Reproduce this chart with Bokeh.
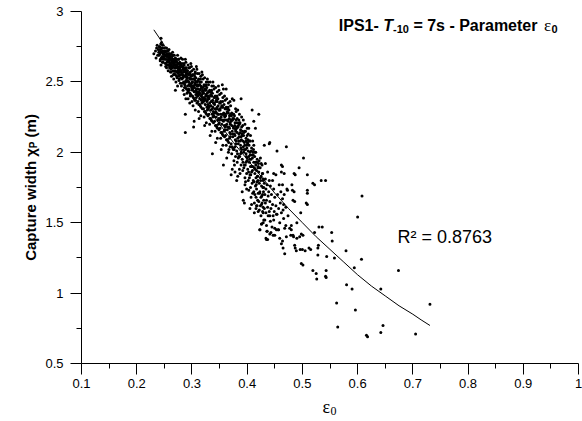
import math
from bokeh.plotting import figure
from bokeh.models import Label, Range1d, FixedTicker, CustomJSTickFormatter
from bokeh.embed import file_html
from bokeh.resources import INLINE

# ---------------- data ----------------
x_ticks = [0.1, 0.2, 0.3, 0.4, 0.5, 0.6, 0.7, 0.8, 0.9, 1.0]
x_minor = [0.15, 0.25, 0.35, 0.45, 0.55, 0.65, 0.75, 0.85, 0.95]
y_ticks = [0.5, 1.0, 1.5, 2.0, 2.5, 3.0]
y_minor = [0.75, 1.25, 1.75, 2.25, 2.75]

fit_eps = [0.231, 0.25, 0.275, 0.30, 0.325, 0.35, 0.375, 0.40, 0.425, 0.45, 0.475,
           0.50, 0.525, 0.55, 0.575, 0.60, 0.625, 0.65, 0.675, 0.70, 0.715, 0.731]
fit_cw = [2.87, 2.76, 2.61, 2.46, 2.33, 2.20, 2.07, 1.95, 1.83, 1.71, 1.60,
          1.50, 1.40, 1.31, 1.22, 1.13, 1.05, 0.98, 0.91, 0.85, 0.81, 0.77]

cloud_upper = [
    (0.231,2.70),(0.234,2.72),(0.236,2.74),(0.238,2.69),(0.239,2.73),(0.237,2.76),(0.240,2.71),(0.235,2.67),
    (0.241,2.75),(0.242,2.70),(0.243,2.66),(0.244,2.73),(0.245,2.78),(0.246,2.68),(0.247,2.72),(0.248,2.64),
    (0.249,2.70),(0.250,2.74),(0.244,2.62),(0.247,2.76),(0.249,2.67),(0.242,2.73),(0.246,2.71),
    (0.251,2.69),(0.252,2.63),(0.252,2.72),(0.253,2.66),(0.254,2.74),(0.254,2.60),(0.255,2.70),(0.256,2.65),
    (0.256,2.68),(0.257,2.58),(0.257,2.72),(0.258,2.62),(0.258,2.67),(0.259,2.70),(0.259,2.64),(0.260,2.61),
    (0.260,2.68),(0.253,2.69),(0.255,2.62),(0.257,2.66),
    (0.261,2.66),(0.261,2.57),(0.262,2.70),(0.262,2.62),(0.263,2.65),(0.263,2.54),(0.264,2.68),(0.264,2.60),
    (0.265,2.63),(0.265,2.71),(0.266,2.58),(0.266,2.66),(0.267,2.52),(0.267,2.62),(0.268,2.69),(0.268,2.56),
    (0.269,2.64),(0.269,2.60),(0.270,2.67),(0.270,2.55),(0.262,2.59),(0.264,2.64),(0.266,2.61),(0.268,2.63),
    (0.270,2.44),
    (0.271,2.62),(0.271,2.50),(0.272,2.66),(0.272,2.57),(0.273,2.60),(0.273,2.53),(0.274,2.69),(0.274,2.47),
    (0.275,2.63),(0.275,2.56),(0.276,2.59),(0.276,2.66),(0.277,2.52),(0.277,2.61),(0.278,2.55),(0.278,2.64),
    (0.279,2.49),(0.279,2.58),(0.280,2.62),(0.280,2.53),(0.272,2.61),(0.274,2.58),(0.276,2.54),(0.278,2.60),
    (0.280,2.67),(0.273,2.64),(0.277,2.57),
    (0.281,2.58),(0.281,2.47),(0.282,2.63),(0.282,2.52),(0.283,2.55),(0.283,2.66),(0.284,2.44),(0.284,2.60),
    (0.285,2.50),(0.285,2.57),(0.286,2.62),(0.286,2.41),(0.287,2.54),(0.287,2.48),(0.288,2.59),(0.288,2.27),
    (0.288,2.14),(0.289,2.51),(0.289,2.64),(0.290,2.45),(0.290,2.56),(0.282,2.56),(0.284,2.53),(0.286,2.49),
    (0.288,2.46),(0.290,2.60),(0.283,2.61),(0.287,2.58),(0.289,2.38),
    (0.291,2.53),(0.291,2.42),(0.292,2.58),(0.292,2.47),(0.293,2.62),(0.293,2.38),(0.294,2.50),(0.294,2.55),
    (0.295,2.44),(0.295,2.60),(0.296,2.35),(0.296,2.52),(0.297,2.47),(0.297,2.57),(0.298,2.41),(0.298,2.63),
    (0.299,2.49),(0.299,2.54),(0.300,2.36),(0.300,2.45),(0.292,2.51),(0.294,2.45),(0.296,2.56),(0.298,2.52),
    (0.300,2.58),(0.293,2.43),(0.297,2.40),(0.299,2.61),(0.295,2.48),(0.291,2.56),
]

cloud_middle = [
    (0.301,2.50),(0.301,2.40),(0.302,2.55),(0.302,2.33),(0.303,2.46),(0.303,2.59),(0.304,2.43),(0.304,2.52),
    (0.305,2.37),(0.305,2.48),(0.306,2.57),(0.306,2.30),(0.307,2.44),(0.307,2.53),(0.308,2.39),(0.308,2.61),
    (0.309,2.47),(0.309,2.35),(0.310,2.50),(0.310,2.42),(0.302,2.47),(0.304,2.38),(0.306,2.51),(0.308,2.45),
    (0.310,2.56),(0.303,2.18),(0.305,2.54),(0.307,2.41),(0.309,2.59),(0.301,2.44),(0.304,2.22),
    (0.311,2.45),(0.311,2.36),(0.312,2.52),(0.312,2.29),(0.313,2.41),(0.313,2.56),(0.314,2.38),(0.314,2.48),
    (0.315,2.33),(0.315,2.44),(0.316,2.54),(0.316,2.26),(0.317,2.40),(0.317,2.50),(0.318,2.35),(0.318,2.57),
    (0.319,2.43),(0.319,2.31),(0.320,2.46),(0.320,2.38),(0.312,2.43),(0.314,2.34),(0.316,2.47),(0.318,2.41),
    (0.320,2.52),(0.313,2.24),(0.315,2.50),(0.317,2.37),(0.319,2.55),(0.311,2.40),
    (0.321,2.42),(0.321,2.31),(0.322,2.48),(0.322,2.25),(0.323,2.37),(0.323,2.53),(0.324,2.34),(0.324,2.45),
    (0.325,2.28),(0.325,2.40),(0.326,2.50),(0.326,2.21),(0.327,2.36),(0.327,2.46),(0.328,2.30),(0.328,2.52),
    (0.329,2.39),(0.329,2.26),(0.330,2.43),(0.330,2.33),(0.322,2.39),(0.324,2.29),(0.326,2.44),(0.328,2.37),
    (0.330,2.48),(0.323,2.19),(0.325,2.47),(0.327,2.32),(0.329,2.50),(0.321,2.36),
    (0.331,2.38),(0.331,2.27),(0.332,2.44),(0.332,2.20),(0.333,2.33),(0.333,2.50),(0.334,2.30),(0.334,2.41),
    (0.335,2.23),(0.335,2.36),(0.336,2.47),(0.336,2.15),(0.337,2.31),(0.337,2.42),(0.338,2.25),(0.338,2.50),
    (0.339,2.35),(0.339,2.21),(0.340,2.39),(0.340,2.28),(0.332,2.35),(0.334,2.24),(0.336,2.40),(0.338,2.32),
    (0.340,2.45),(0.333,2.12),(0.335,2.43),(0.337,2.27),(0.339,2.47),(0.331,2.32),(0.337,1.99),
    (0.341,2.34),(0.341,2.22),(0.342,2.40),(0.342,2.15),(0.343,2.29),(0.343,2.46),(0.344,2.25),(0.344,2.37),
    (0.345,2.18),(0.345,2.31),(0.346,2.43),(0.346,2.10),(0.347,2.27),(0.347,2.38),(0.348,2.20),(0.348,2.47),
    (0.349,2.30),(0.349,2.16),(0.350,2.35),(0.350,2.23),(0.342,2.31),(0.344,2.19),(0.346,2.36),(0.348,2.27),
    (0.350,2.41),(0.343,2.07),(0.345,2.39),(0.347,2.23),(0.349,2.44),(0.341,2.28),
    (0.351,2.30),(0.351,2.17),(0.352,2.36),(0.352,2.10),(0.353,2.25),(0.353,2.42),(0.354,2.20),(0.354,2.33),
    (0.355,2.13),(0.355,2.27),(0.356,2.39),(0.356,2.05),(0.357,2.22),(0.357,2.45),(0.358,2.15),(0.358,2.34),
    (0.359,2.26),(0.359,2.11),(0.360,2.31),(0.360,2.18),(0.352,2.27),(0.354,2.14),(0.356,2.32),(0.358,2.23),
    (0.360,2.37),(0.353,2.02),(0.355,2.48),(0.357,1.91),(0.359,2.40),(0.351,2.24),(0.362,2.45),
    (0.361,2.26),(0.361,2.12),(0.362,2.32),(0.362,2.05),(0.363,2.20),(0.363,2.38),(0.364,2.16),(0.364,2.29),
    (0.365,2.08),(0.365,2.23),(0.366,2.35),(0.366,2.00),(0.367,2.18),(0.367,2.30),(0.368,2.10),(0.368,2.26),
    (0.369,2.21),(0.369,2.04),(0.370,2.27),(0.370,2.13),(0.362,2.23),(0.364,2.09),(0.366,2.28),(0.368,2.17),
    (0.370,2.33),(0.363,1.96),(0.365,2.31),(0.367,2.02),(0.369,2.36),(0.361,2.19),
]

cloud_lower = [
    (0.371,2.22),(0.371,2.06),(0.372,2.28),(0.372,1.99),(0.373,2.15),(0.373,2.38),(0.374,2.11),(0.374,2.24),
    (0.375,2.02),(0.375,2.18),(0.376,2.37),(0.376,1.94),(0.377,2.13),(0.377,2.26),(0.378,2.04),(0.378,2.21),
    (0.379,2.16),(0.379,1.97),(0.380,2.23),(0.380,2.08),(0.372,2.19),(0.374,2.03),(0.376,2.24),(0.378,2.12),
    (0.380,2.29),(0.373,1.88),(0.375,2.27),(0.377,1.91),(0.379,2.31),(0.371,1.84),(0.378,1.86),
    (0.381,2.17),(0.381,2.01),(0.382,2.24),(0.382,1.93),(0.383,2.10),(0.383,2.30),(0.384,2.06),(0.384,2.19),
    (0.385,1.97),(0.385,2.13),(0.386,2.27),(0.386,1.88),(0.387,2.08),(0.387,2.21),(0.388,1.99),(0.388,2.16),
    (0.389,2.11),(0.389,1.91),(0.390,2.18),(0.390,2.02),(0.382,2.14),(0.384,1.96),(0.386,2.20),(0.388,2.05),
    (0.390,2.25),(0.383,1.83),(0.385,2.23),(0.387,1.85),(0.389,2.38),(0.381,1.80),
    (0.391,2.12),(0.391,1.95),(0.392,2.19),(0.392,1.87),(0.393,2.04),(0.393,2.23),(0.394,2.00),(0.394,2.14),
    (0.395,1.91),(0.395,2.07),(0.396,2.20),(0.396,1.82),(0.397,2.02),(0.397,2.15),(0.398,1.93),(0.398,2.10),
    (0.399,2.05),(0.399,1.85),(0.400,2.12),(0.400,1.96),(0.392,2.08),(0.394,1.89),(0.396,1.77),(0.398,1.99),
    (0.400,2.17),(0.393,1.66),(0.395,1.64),(0.397,1.79),(0.399,1.74),(0.391,1.72),
    (0.401,2.06),(0.401,1.88),(0.402,2.13),(0.402,1.80),(0.403,1.97),(0.403,2.17),(0.404,1.93),(0.404,2.08),
    (0.405,1.84),(0.405,2.00),(0.406,2.12),(0.406,1.75),(0.407,1.95),(0.407,1.68),(0.408,1.86),(0.408,2.03),
    (0.409,1.98),(0.409,1.78),(0.410,1.90),(0.410,1.71),(0.402,2.01),(0.404,1.82),(0.406,1.90),(0.408,1.63),
    (0.410,2.08),(0.403,1.73),(0.405,1.60),(0.409,2.30),(0.412,2.22),(0.415,2.17),
    (0.411,1.98),(0.411,1.80),(0.412,2.05),(0.412,1.72),(0.413,1.89),(0.413,1.64),(0.414,1.85),(0.414,2.00),
    (0.415,1.76),(0.415,1.93),(0.416,1.68),(0.416,1.60),(0.417,1.87),(0.417,1.74),(0.418,1.79),(0.418,1.95),
    (0.419,1.66),(0.419,1.83),(0.420,1.71),(0.420,1.58),(0.412,1.93),(0.414,1.70),(0.416,1.82),(0.418,1.62),
    (0.420,1.90),(0.413,1.57),(0.417,1.62),
    (0.421,1.86),(0.421,1.65),(0.422,1.78),(0.422,1.59),(0.423,1.72),(0.423,1.45),(0.424,1.82),(0.424,1.62),
    (0.425,1.68),(0.425,1.55),(0.426,1.76),(0.426,1.49),(0.427,1.64),(0.427,1.91),(0.428,1.58),(0.428,1.70),
    (0.429,1.61),(0.429,1.80),(0.430,1.66),(0.430,1.52),(0.421,2.27),(0.424,1.96),(0.426,1.63),(0.428,1.85),
    (0.430,1.75),
    (0.431,1.78),(0.431,1.60),(0.432,1.70),(0.432,1.52),(0.433,1.64),(0.433,1.81),(0.434,1.57),(0.434,1.74),
    (0.435,1.48),(0.435,1.66),(0.436,1.44),(0.436,1.77),(0.437,1.61),(0.437,1.38),(0.438,1.69),(0.438,1.55),
    (0.439,1.72),(0.440,1.58),(0.440,1.80),(0.433,1.92),(0.437,1.86),
    (0.441,1.65),(0.442,1.51),(0.442,1.76),(0.443,1.60),(0.444,1.70),(0.445,1.47),(0.446,1.63),(0.447,1.55),
    (0.448,1.74),(0.449,1.58),(0.450,1.68),(0.446,1.80),(0.443,1.43),(0.448,1.52),
    (0.452,1.62),(0.454,1.56),(0.455,1.70),(0.457,1.60),(0.459,1.50),(0.460,1.64),(0.462,1.57),(0.464,1.67),
    (0.466,1.53),(0.468,1.46),(0.470,1.61),(0.456,1.45),(0.461,1.72),(0.458,1.77),
]

cloud_core = [
    (0.2405,2.69),(0.2415,2.75),(0.2425,2.65),(0.2435,2.71),(0.2445,2.67),(0.2455,2.74),(0.2465,2.64),(0.2475,2.70),
    (0.2485,2.68),(0.2495,2.72),(0.2435,2.77),(0.2475,2.66),
    (0.2505,2.66),(0.2515,2.71),(0.2525,2.61),(0.2535,2.68),(0.2545,2.64),(0.2555,2.72),(0.2565,2.62),(0.2575,2.69),
    (0.2585,2.65),(0.2595,2.60),(0.2545,2.70),(0.2585,2.73),
    (0.2605,2.63),(0.2615,2.68),(0.2625,2.57),(0.2635,2.66),(0.2645,2.61),(0.2655,2.69),(0.2665,2.55),(0.2675,2.65),
    (0.2685,2.60),(0.2695,2.58),(0.2655,2.64),(0.2695,2.66),
    (0.2705,2.60),(0.2715,2.65),(0.2725,2.54),(0.2735,2.62),(0.2745,2.57),(0.2755,2.66),(0.2765,2.51),(0.2775,2.63),
    (0.2785,2.58),(0.2795,2.55),(0.2755,2.60),(0.2795,2.62),
    (0.2805,2.57),(0.2815,2.61),(0.2825,2.49),(0.2835,2.59),(0.2845,2.54),(0.2855,2.63),(0.2865,2.46),(0.2875,2.60),
    (0.2885,2.55),(0.2895,2.50),(0.2855,2.58),(0.2895,2.57),
    (0.2905,2.54),(0.2915,2.58),(0.2925,2.44),(0.2935,2.56),(0.2945,2.50),(0.2955,2.60),(0.2965,2.42),(0.2975,2.55),
    (0.2985,2.48),(0.2995,2.46),(0.2955,2.53),(0.2995,2.52),
    (0.3005,2.50),(0.3015,2.55),(0.3025,2.39),(0.3035,2.52),(0.3045,2.46),(0.3055,2.56),(0.3065,2.37),(0.3075,2.50),
    (0.3085,2.43),(0.3095,2.41),(0.3055,2.49),(0.3095,2.48),
    (0.3105,2.47),(0.3115,2.51),(0.3125,2.34),(0.3135,2.48),(0.3145,2.42),(0.3155,2.52),(0.3165,2.32),(0.3175,2.46),
    (0.3185,2.39),(0.3195,2.36),(0.3155,2.45),(0.3195,2.44),
    (0.3205,2.43),(0.3215,2.47),(0.3225,2.29),(0.3235,2.44),(0.3245,2.38),(0.3255,2.48),(0.3265,2.27),(0.3275,2.42),
    (0.3285,2.34),(0.3295,2.31),(0.3255,2.41),(0.3295,2.40),
    (0.3305,2.39),(0.3315,2.43),(0.3325,2.24),(0.3335,2.40),(0.3345,2.33),(0.3355,2.44),(0.3365,2.22),(0.3375,2.37),
    (0.3385,2.29),(0.3395,2.26),(0.3355,2.36),(0.3395,2.35),
    (0.3405,2.35),(0.3415,2.39),(0.3425,2.19),(0.3435,2.36),(0.3445,2.28),(0.3455,2.40),(0.3465,2.17),(0.3475,2.33),
    (0.3485,2.24),(0.3495,2.21),(0.3455,2.32),(0.3495,2.30),
    (0.3505,2.31),(0.3515,2.35),(0.3525,2.14),(0.3535,2.32),(0.3545,2.23),(0.3555,2.36),(0.3565,2.12),(0.3575,2.28),
    (0.3585,2.19),(0.3595,2.16),(0.3555,2.27),(0.3595,2.25),
    (0.3605,2.27),(0.3615,2.31),(0.3625,2.09),(0.3635,2.28),(0.3645,2.18),(0.3655,2.32),(0.3665,2.07),(0.3675,2.24),
    (0.3685,2.14),(0.3695,2.11),(0.3655,2.22),(0.3695,2.20),
    (0.3705,2.23),(0.3715,2.26),(0.3725,2.04),(0.3735,2.23),(0.3745,2.13),(0.3755,2.27),(0.3765,2.02),(0.3775,2.19),
    (0.3785,2.09),(0.3795,2.06),(0.3755,2.17),(0.3795,2.15),
    (0.3805,2.18),(0.3815,2.21),(0.3825,1.99),(0.3835,2.18),(0.3845,2.08),(0.3855,2.21),(0.3865,1.97),(0.3875,2.14),
    (0.3885,2.03),(0.3895,2.00),(0.3855,2.11),(0.3895,2.09),
    (0.3905,2.13),(0.3915,2.15),(0.3925,1.93),(0.3935,2.12),(0.3945,2.02),(0.3955,2.15),(0.3965,1.91),(0.3975,2.08),
    (0.3985,1.97),(0.3995,1.94),(0.3955,2.05),(0.3995,2.03),
    (0.4005,2.07),(0.4015,2.09),(0.4025,1.86),(0.4035,2.05),(0.4045,1.95),(0.4055,2.08),(0.4065,1.84),(0.4075,2.01),
    (0.4085,1.90),(0.4095,1.87),(0.4055,1.98),(0.4095,1.96),
    (0.4105,2.00),(0.4115,2.02),(0.4125,1.79),(0.4135,1.97),(0.4145,1.88),(0.4155,2.00),(0.4165,1.77),(0.4175,1.93),
    (0.4185,1.83),(0.4195,1.80),(0.4155,1.91),(0.4195,1.89),
    (0.4205,1.92),(0.4215,1.94),(0.4225,1.71),(0.4235,1.89),(0.4245,1.80),(0.4255,1.92),(0.4265,1.69),(0.4275,1.85),
    (0.4285,1.75),(0.4295,1.72),(0.4255,1.83),(0.4295,1.81),
]

scatter_sparse = [
    (0.731,0.92),(0.674,1.16),(0.705,0.71),(0.646,0.77),(0.642,0.72),(0.642,1.03),(0.616,0.70),(0.618,0.69),
    (0.607,1.24),(0.608,1.69),(0.600,1.54),(0.594,1.18),(0.596,0.88),(0.590,1.03),(0.580,1.06),(0.579,1.30),
    (0.564,0.76),(0.562,0.93),(0.558,1.25),(0.553,1.43),(0.554,1.37),(0.542,1.80),(0.534,1.80),(0.536,1.47),
    (0.530,1.47),(0.529,1.34),(0.544,1.26),(0.543,1.16),(0.542,1.12),(0.543,1.11),(0.525,1.14),(0.526,1.10),
    (0.528,1.27),(0.528,1.32),(0.522,1.77),(0.522,1.43),(0.509,1.84),(0.509,1.73),(0.509,1.71),(0.509,1.63),
    (0.502,1.96),(0.501,1.20),(0.501,1.41),(0.497,1.57),(0.505,1.30),(0.515,1.31),(0.496,1.31),(0.494,1.89),
    (0.490,1.50),(0.490,1.39),(0.489,1.30),(0.487,1.32),(0.487,1.84),(0.485,1.72),(0.486,1.65),(0.484,1.40),
    (0.481,1.77),(0.480,1.45),(0.480,1.48),(0.479,1.41),(0.471,2.04),(0.473,1.73),(0.467,1.85),(0.464,1.90),
    (0.467,1.70),(0.466,1.63),(0.465,1.32),(0.468,1.28),(0.464,1.37),(0.454,2.01),(0.452,1.84),(0.453,1.45),
    (0.457,1.45),(0.450,1.41),(0.440,2.06),(0.435,1.38),(0.436,1.44),(0.431,2.05),(0.426,1.49),(0.423,1.45),
    (0.429,1.50),(0.441,1.42),(0.450,1.46),(0.477,1.46),(0.470,1.48),(0.434,1.39),(0.447,1.41),
    (0.459,1.39),(0.462,1.35),(0.471,1.40),(0.483,1.41),(0.495,1.40),(0.498,1.42),(0.486,1.34),(0.500,1.31),
    (0.429,1.57),(0.441,1.55),(0.453,1.56),(0.465,1.59),(0.474,1.55),(0.519,1.16),(0.498,1.21),(0.512,1.32),
    (0.441,2.07),(0.462,1.91),(0.462,1.86),(0.448,1.85),(0.485,1.85),(0.519,1.78),(0.464,1.77),(0.472,1.74),
    (0.482,1.73),(0.483,1.66),(0.507,1.64),(0.244,2.81),(0.288,2.66),
]

r2_text = "R\u00b2 = 0.8763"

# ---------------- layout (figure pixels = page pixels) ----------------
W, H = 582, 421
BL, BR, BT, BB = 81, 4, 11, 58
FW, FH = W - BL - BR, H - BT - BB
X0, X1, Y0, Y1 = 0.1, 1.0, 0.5, 3.0

def px2x(px):
    return X0 + (px - BL) / FW * (X1 - X0)

def px2y(py):
    return Y1 - (py - BT) / FH * (Y1 - Y0)

p = figure(width=W, height=H, output_backend="svg", toolbar_location=None,
           x_range=Range1d(X0, X1), y_range=Range1d(Y0, Y1),
           min_border_left=BL, min_border_right=BR, min_border_top=BT, min_border_bottom=BB)
p.outline_line_color = None
p.xgrid.visible = False
p.ygrid.visible = False
p.background_fill_color = "white"
p.border_fill_color = "white"

fmt = CustomJSTickFormatter(code="return String(Math.round(tick*100)/100);")
p.xaxis.ticker = FixedTicker(ticks=x_ticks, minor_ticks=x_minor)
p.yaxis.ticker = FixedTicker(ticks=y_ticks, minor_ticks=y_minor)
for ax in (p.xaxis[0], p.yaxis[0]):
    ax.formatter = fmt
    ax.axis_line_color = "black"
    ax.axis_line_width = 1
    ax.major_tick_line_color = "black"
    ax.minor_tick_line_color = "black"
    ax.major_tick_in = 0
    ax.major_tick_out = 11
    ax.minor_tick_in = 0
    ax.minor_tick_out = 5
    ax.major_label_text_font = "Liberation Sans"
    ax.major_label_text_font_size = "13px"
    ax.major_label_text_color = "black"
p.xaxis.major_label_standoff = 4
p.yaxis.major_label_standoff = 7

all_pts = cloud_upper + cloud_middle + cloud_core + cloud_lower + scatter_sparse
p.scatter([q[0] for q in all_pts], [q[1] for q in all_pts], marker="circle",
          size=3.0, fill_color="black", line_color=None)
p.line(fit_eps, fit_cw, line_color="black", line_width=1)

ADV = {' ': 278, '-': 333, '=': 584, '0': 556, '1': 556, '7': 556, 'I': 278, 'P': 667,
       'S': 667, 'T': 611, 's': 556, 'a': 556, 'r': 389, 'm': 889, 'e': 556, 't': 333,
       'C': 722, 'p': 611, 'u': 611, 'w': 778, 'i': 278, 'd': 611, 'h': 611, '(': 333,
       ')': 333, 'ε': 440, 'χ': 560}

def tw(text, size):
    return sum(ADV.get(c, 556) for c in text) / 1000.0 * size

def add_runs(runs, start, base, rotated=False):
    # runs: (text, font, size, style, baseline shift, extra gap before, panel)
    pos = 0.0
    for text, font, size, style, shift, gap, place in runs:
        pos += gap
        lead = len(text) - len(text.lstrip(' '))
        core = text.strip(' ')
        cpos = pos + tw(' ' * lead, size)
        if rotated:
            lx, ly, ang = px2x(base + shift), px2y(start - cpos), math.pi / 2
        else:
            lx, ly, ang = px2x(start + cpos), px2y(base + shift), 0
        lab = Label(x=lx, y=ly, text=core, angle=ang, text_font=font,
                    text_font_size=f"{size}px", text_font_style=style,
                    text_color="black", text_align="left", text_baseline="alphabetic")
        if place == "center":
            p.add_layout(lab)
        else:
            p.add_layout(lab, place)
        pos += tw(text, size)

# title (inside the frame)
title_runs = [("IPS1- ", "Liberation Sans", 16, "bold", 0, 0, "center"),
              ("T", "Liberation Sans", 16, "bold italic", 0, 0, "center"),
              ("-10", "Liberation Sans", 11, "bold", 3, 0, "center"),
              (" = 7s - Parameter ", "Liberation Sans", 16, "bold", 0, 0, "center"),
              ("ε", "Liberation Serif", 17, "normal", 0, 2, "center"),
              ("0", "Liberation Sans", 11, "bold", 3, 0, "center")]
title_w = sum(tw(r[0], r[2]) + r[5] for r in title_runs)
add_runs(title_runs, 557 - title_w, 25)

# y axis label (rotated); runs are spread over side panels so the frame keeps its place
ylab_runs = [("Capture width χ", "Liberation Sans", 15, "bold", 0, 0, "left"),
             ("P", "Liberation Sans", 10, "bold", 3, 0, "above"),
             (" (m)", "Liberation Sans", 15, "bold", 0, 0, "left")]
ylab_w = sum(tw(r[0], r[2]) for r in ylab_runs)
add_runs(ylab_runs, 187 + ylab_w / 2, 30, rotated=True)

# x axis label
xlab_runs = [("ε", "Liberation Serif", 18, "normal", 0, 0, "below"),
             ("0", "Liberation Serif", 12, "normal", 4, 0, "left")]
add_runs(xlab_runs, 322, 406)

# R^2 annotation
p.add_layout(Label(x=px2x(397), y=px2y(236), text=r2_text, text_font="Liberation Sans",
                   text_font_size="18px", text_color="black", text_align="left",
                   text_baseline="alphabetic"))

open("out.html", "w").write(file_html(p, INLINE))
